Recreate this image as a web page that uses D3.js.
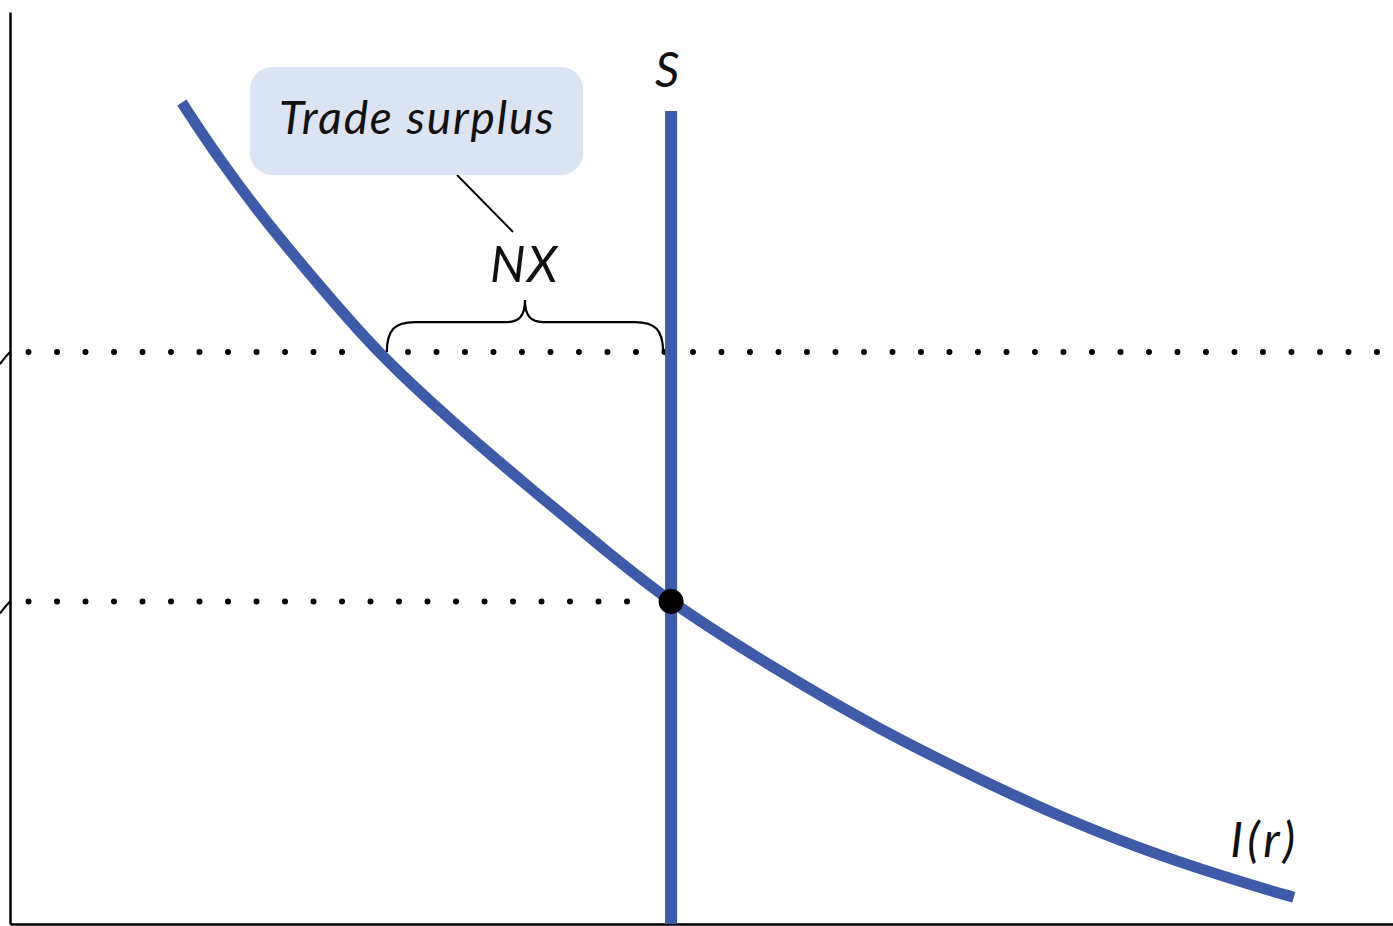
<!DOCTYPE html>
<html>
<head>
<meta charset="utf-8">
<script src="https://cdn.jsdelivr.net/npm/d3@7"></script>
<style>
  body { margin: 0; background: #fff; }
  svg text { font-family: Lato, "Open Sans", sans-serif; font-style: italic; fill: #111; }
</style>
</head>
<body>
<div id="visual"></div>
<script>
// investment schedule I(r) (quantity, interest rate)
var investQ = [1.30, 1.57, 1.94, 2.37, 2.78, 3.34, 3.93, 4.54, 5.00, 5.82, 6.58, 7.34, 7.94, 8.70, 9.46, 9.71];
var investR = [8.89, 8.30, 7.59, 6.86, 6.18, 5.44, 4.72, 4.00, 3.47, 2.73, 2.10, 1.56, 1.16, 0.73, 0.39, 0.29];

// saving is fixed
var savingQ = 5.00;
var savingTop = 8.80;

// world interest rate and closed-economy rate
var rWorld = 6.19;
var rStar = 3.49;
var investAtWorld = 2.85;

// dotted guide segments: [from, to, rate]
var guides = [[0.14, 2.55, rWorld], [3.01, 10.5, rWorld], [0.14, 4.77, rStar]];

// labels
var labels = [
  {text: "S", q: 4.97, r: 9.06, size: 48, spacing: 0},
  {text: "NX", q: 3.63, r: 6.95, size: 50, spacing: 1.5},
  {text: "I(r)", q: 9.23, r: 0.73, size: 48, spacing: 4}
];

// width and height
const w = 1393;
const h = 926;

const xScale = d3.scaleLinear().domain([0, 10.46]).range([10, 1393]);
const yScale = d3.scaleLinear().domain([0, 10]).range([924, 0]);

const svgC = d3.select("#visual")
               .append("svg")
               .attr("width", w)
               .attr("height", h);

const blue = "#3f5aa8";

// dotted lines
svgC.selectAll(".guide")
    .data(guides)
    .enter()
    .append("line")
    .attr("class", "guide")
    .attr("x1", (d) => xScale(d[0]))
    .attr("x2", (d) => xScale(d[1]))
    .attr("y1", (d) => yScale(d[2]))
    .attr("y2", (d) => yScale(d[2]))
    .attr("stroke", "#000")
    .attr("stroke-width", 6)
    .attr("stroke-linecap", "round")
    .attr("stroke-dasharray", "0 28.5");

// axes, no ticks
svgC.append("g")
    .attr("transform", "translate(10,0)")
    .call(d3.axisLeft(yScale.copy().range([924, 12])).ticks(0).tickSizeOuter(0))
    .select(".domain").attr("stroke-width", 2.5);

svgC.append("g")
    .attr("transform", "translate(0,924)")
    .call(d3.axisBottom(xScale).ticks(0).tickSizeOuter(0))
    .select(".domain").attr("stroke-width", 2.5);

// cut-off bits of the left axis labels
[rWorld, rStar].forEach(function(r) {
  var y0 = yScale(r);
  svgC.append("path")
      .attr("d", "M0," + (y0 + 12) + " Q5," + (y0 + 5) + " 10," + y0)
      .attr("fill", "none")
      .attr("stroke", "#000")
      .attr("stroke-width", 2);
});

// saving line
svgC.append("line")
    .attr("x1", xScale(savingQ))
    .attr("x2", xScale(savingQ))
    .attr("y1", yScale(0))
    .attr("y2", yScale(savingTop))
    .attr("stroke", blue)
    .attr("stroke-width", 12);

// investment curve
const investData = investQ.map((q, i) => [q, investR[i]]);
const line = d3.line()
               .x((d) => xScale(d[0]))
               .y((d) => yScale(d[1]))
               .curve(d3.curveBasis);

svgC.append("path")
    .datum(investData)
    .attr("d", line)
    .attr("fill", "none")
    .attr("stroke", blue)
    .attr("stroke-width", 11);

// closed-economy point
svgC.append("circle")
    .attr("cx", xScale(savingQ))
    .attr("cy", yScale(rStar))
    .attr("r", 12.5)
    .attr("fill", "#000");

// brace over NX
var bx0 = xScale(investAtWorld), bx1 = xScale(savingQ) - 8, by = yScale(rWorld), mid = (bx0 + bx1) / 2;
svgC.append("path")
    .attr("d", "M" + bx0 + "," + by +
               " C" + bx0 + "," + (by - 22) + " " + (bx0 + 8) + "," + (by - 30) + " " + (bx0 + 28) + "," + (by - 30) +
               " L" + (mid - 18) + "," + (by - 30) +
               " C" + (mid - 6) + "," + (by - 30) + " " + mid + "," + (by - 36) + " " + mid + "," + (by - 52) +
               " C" + mid + "," + (by - 36) + " " + (mid + 6) + "," + (by - 30) + " " + (mid + 18) + "," + (by - 30) +
               " L" + (bx1 - 28) + "," + (by - 30) +
               " C" + (bx1 - 8) + "," + (by - 30) + " " + bx1 + "," + (by - 22) + " " + bx1 + "," + by)
    .attr("fill", "none")
    .attr("stroke", "#000")
    .attr("stroke-width", 2.2);

// callout box
svgC.append("line")
    .attr("x1", 457).attr("y1", 175)
    .attr("x2", 513).attr("y2", 232)
    .attr("stroke", "#000")
    .attr("stroke-width", 2);

svgC.append("rect")
    .attr("x", 250).attr("y", 67)
    .attr("width", 333).attr("height", 108)
    .attr("rx", 22)
    .attr("fill", "#dce3f3");

svgC.append("text")
    .attr("x", 279).attr("y", 134)
    .style("font-size", "46px")
    .style("letter-spacing", "1.9px")
    .text("Trade surplus");

// curve labels
svgC.selectAll(".lab")
    .data(labels)
    .enter()
    .append("text")
    .attr("class", "lab")
    .attr("x", (d) => xScale(d.q))
    .attr("y", (d) => yScale(d.r))
    .attr("text-anchor", (d) => d.spacing ? "start" : "middle")
    .style("font-size", (d) => d.size + "px")
    .style("letter-spacing", (d) => d.spacing + "px")
    .text((d) => d.text);
</script>
</body>
</html>
